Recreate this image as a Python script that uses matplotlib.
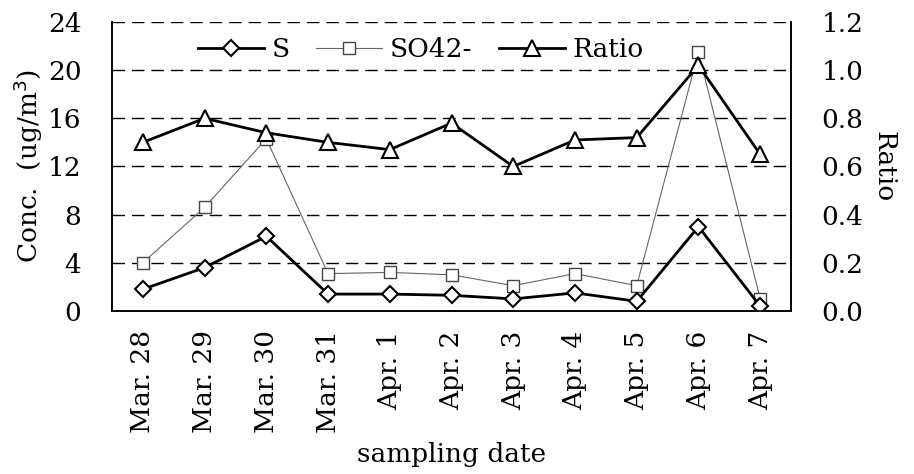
import numpy as np
import matplotlib.pyplot as plt

plt.rcParams['font.family'] = ['DejaVu Serif']

dates = ['Mar. 28', 'Mar. 29', 'Mar. 30', 'Mar. 31', 'Apr. 1', 'Apr. 2',
         'Apr. 3', 'Apr. 4', 'Apr. 5', 'Apr. 6', 'Apr. 7']
s_conc = [1.8, 3.6, 6.2, 1.4, 1.4, 1.3, 1.0, 1.5, 0.8, 7.0, 0.4]
so4_conc = [4.0, 8.6, 14.3, 3.1, 3.2, 3.0, 2.1, 3.1, 2.1, 21.5, 1.0]
ratio = [0.70, 0.80, 0.74, 0.70, 0.67, 0.78, 0.60, 0.71, 0.72, 1.02, 0.65]

fs = 19
x = np.arange(len(dates))

fig = plt.figure(figsize=(9.14, 4.74), dpi=100)
ax = fig.add_axes([0.1225, 0.344, 0.743, 0.6096])
ax2 = ax.twinx()

l1, = ax.plot(x, s_conc, color='black', lw=2, marker='D', ms=8,
              mfc='white', mec='black', mew=1.5, label='S', zorder=4)
l2, = ax.plot(x, so4_conc, color='#666666', lw=0.8, marker='s', ms=8,
              mfc='white', mec='#444444', mew=1, label='SO42-', zorder=3)
l3, = ax2.plot(x, ratio, color='black', lw=2, marker='^', ms=11,
               mfc='white', mec='black', mew=1.5, label='Ratio', zorder=4)

ax.set_xlim(-0.5, len(dates) - 0.5)
ax.set_ylim(0, 24)
ax.set_yticks(np.arange(0, 25, 4))
ax2.set_ylim(0, 1.2)
ax2.set_yticks(np.arange(0, 1.21, 0.2))
ax2.set_yticklabels(['%.1f' % v for v in np.arange(0, 1.21, 0.2)])

ax.set_xticks(x)
ax.set_xticklabels(dates, rotation=90)
ax.tick_params(axis='both', length=0, labelsize=fs)
ax.tick_params(axis='y', pad=22)
ax.tick_params(axis='x', pad=14)
ax2.tick_params(axis='y', length=0, labelsize=fs, pad=22)

for v in np.arange(4, 25, 4):
    ax.axhline(v, color='black', lw=1, ls=(0, (9, 5)), zorder=1)

for a in (ax, ax2):
    a.spines['top'].set_visible(False)
    a.spines['left'].set_linewidth(1.2)
    a.spines['right'].set_linewidth(1.2)
    a.spines['bottom'].set_linewidth(1.2)

ax.set_ylabel('Conc.  (ug/m$^3$)', fontsize=fs, labelpad=2)
ax2.set_ylabel('Ratio', fontsize=fs, rotation=-90, labelpad=24)
ax.set_xlabel('sampling date', fontsize=fs, labelpad=6)

ax.legend(handles=[l1, l2, l3], loc='upper center', ncol=3, frameon=False,
          fontsize=fs, handlelength=2.5, columnspacing=1.0, handletextpad=0.3,
          bbox_to_anchor=(0.455, 1.03))

fig.savefig('out.png', dpi=100)
